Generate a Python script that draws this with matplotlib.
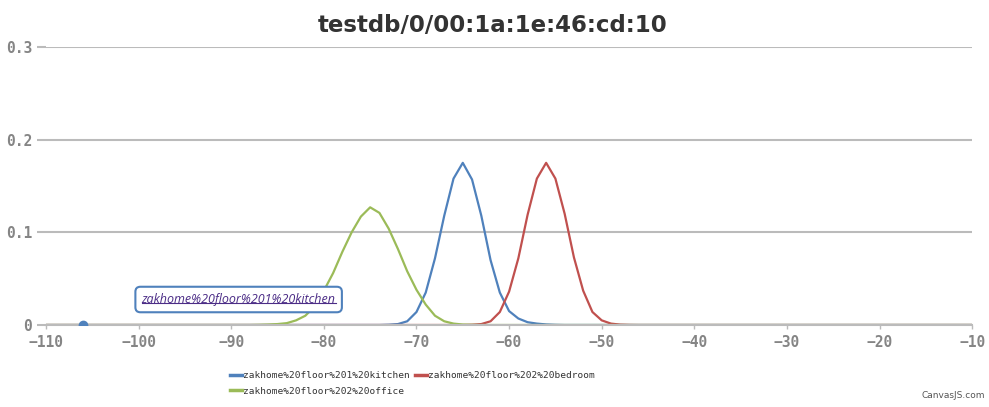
import matplotlib.pyplot as plt
from matplotlib.lines import Line2D
from matplotlib import font_manager
import numpy as np

# RSSI axis (dBm) and probability of each reading per room
rssi = np.arange(-110, -9)

kitchen_start = -75
kitchen = [0.0, 0.0, 0.0003, 0.001, 0.004, 0.014, 0.035, 0.072, 0.118, 0.158,
           0.175, 0.157, 0.118, 0.070, 0.035, 0.015, 0.007, 0.003, 0.0015, 0.0006,
           0.0002]

bedroom_start = -65
bedroom = [0.0, 0.0003, 0.001, 0.004, 0.014, 0.036, 0.072, 0.119, 0.158, 0.175,
           0.158, 0.120, 0.073, 0.037, 0.014, 0.005, 0.0015, 0.0004, 0.0001]

office_start = -87
office = [0.0002, 0.0005, 0.001, 0.002, 0.005, 0.010, 0.020, 0.037, 0.056, 0.079,
          0.100, 0.117, 0.127, 0.121, 0.104, 0.082, 0.058, 0.038, 0.022, 0.010,
          0.004, 0.0015, 0.0005, 0.0002]

names = ['zakhome%20floor%201%20kitchen',
         'zakhome%20floor%202%20bedroom',
         'zakhome%20floor%202%20office']
colors = ['#4F81BC', '#C0504E', '#9BBB58']

hover_x = -106  # point highlighted under the tooltip
title = 'testdb/0/00:1a:1e:46:cd:10'


def full_series(start, vals):
    y = np.zeros(len(rssi))
    i = int(start - rssi[0])
    y[i:i + len(vals)] = vals
    return y


series = [full_series(kitchen_start, kitchen),
          full_series(bedroom_start, bedroom),
          full_series(office_start, office)]

fig = plt.figure(figsize=(9.89, 4.07), dpi=100)
ax = fig.add_axes([0.0465, 0.2015, 0.9365, 0.683])

lines = []
for y, name, c in zip(series, names, colors):
    ln, = ax.plot(rssi, y, color=c, lw=1.6, label=name)
    lines.append(ln)

ax.plot(hover_x, series[0][hover_x - rssi[0]], 'o', color=colors[0], ms=6, zorder=5)

ax.set_xlim(-110, -10)
ax.set_ylim(0, 0.3)
ax.set_xticks(np.arange(-110, 0, 10))
ax.set_yticks([0, 0.1, 0.2, 0.3])
ax.set_yticklabels(['0', '0.1', '0.2', '0.3'])

grid_c = '#BBBBBB'
ax.yaxis.grid(True, color=grid_c, lw=1.5)
ax.set_axisbelow(True)
for s in ['top', 'right', 'left']:
    ax.spines[s].set_visible(False)
ax.spines['bottom'].set_color(grid_c)
ax.spines['bottom'].set_linewidth(1.5)
ax.tick_params(axis='y', length=6.5, width=1.5, color=grid_c, pad=3.5,
               labelsize=10.5, labelcolor='#858585')
ax.tick_params(axis='x', length=3, width=1, color=grid_c, pad=4,
               labelsize=10.5, labelcolor='#858585')
for lbl in ax.get_xticklabels() + ax.get_yticklabels():
    lbl.set_family('DejaVu Sans Mono')
    lbl.set_weight('bold')

# condensed title font if there is one, else a smaller bold sans
try:
    font_manager.findfont(font_manager.FontProperties(family='Liberation Sans Narrow', weight='bold'),
                          fallback_to_default=False)
    title_family, title_size = 'Liberation Sans Narrow', 25
except ValueError:
    title_family, title_size = 'DejaVu Sans', 16.5
fig.text(0.4985, 0.938, title, ha='center', va='center', fontsize=title_size,
         fontweight='heavy', color='#333333', family=title_family)

# tooltip
tip = ax.text(-89.2, 0.0275, names[0], ha='center', va='center', fontsize=9,
              style='italic', color='#4B2C86', family=['Open Sans', 'DejaVu Sans'],
              bbox=dict(boxstyle='round,pad=0.5,rounding_size=0.4', fc='white',
                        ec=colors[0], lw=1.5), zorder=6)

leg = fig.legend([lines[0], lines[2], lines[1]], [names[0], names[2], names[1]],
                 loc='center', bbox_to_anchor=(0.417, 0.058), ncol=2, frameon=False,
                 handlelength=1.3, handletextpad=0.15, columnspacing=0.5,
                 labelspacing=0.7, borderpad=0.2,
                 prop={'family': 'DejaVu Sans Mono', 'size': 6.8})
for t in leg.get_texts():
    t.set_color('#333333')
for h in leg.legend_handles:
    h.set_linewidth(2.5)

fig.text(0.996, 0.028, 'CanvasJS.com', ha='right', va='center', fontsize=6.5,
         color='#555555', family='DejaVu Sans')

# underline the tooltip text like a link
fig.canvas.draw()
bb = tip.get_window_extent()
W = fig.dpi * fig.get_figwidth()
H = fig.dpi * fig.get_figheight()
uy = bb.y0 + bb.height * 0.2
fig.add_artist(Line2D([bb.x0 / W, bb.x1 / W], [uy / H] * 2,
                      transform=fig.transFigure, color='#4B2C86', lw=0.8, zorder=7))

fig.savefig('out.png', dpi=100)
